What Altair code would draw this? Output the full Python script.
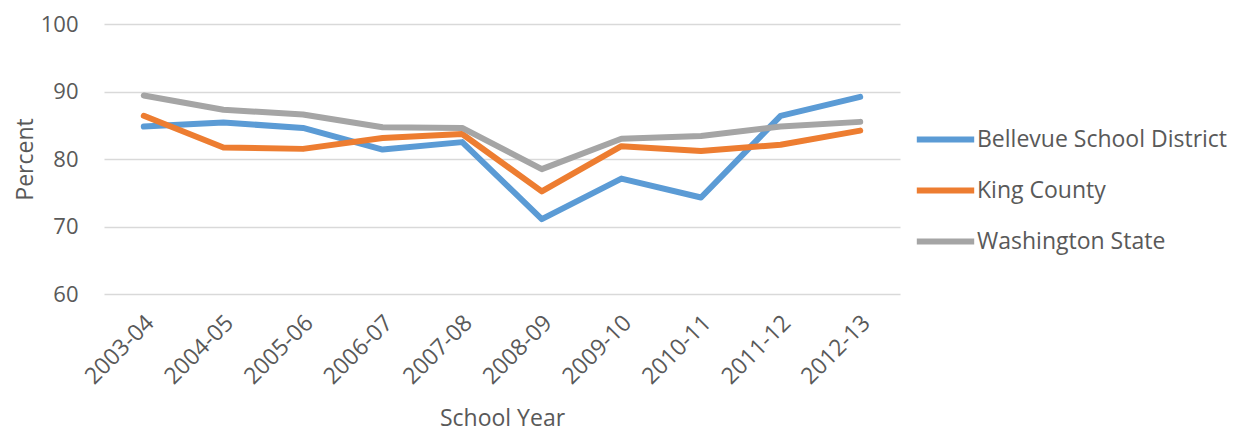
import altair as alt
import pandas as pd

years = ['2003-04', '2004-05', '2005-06', '2006-07', '2007-08',
         '2008-09', '2009-10', '2010-11', '2011-12', '2012-13']
bellevue = [84.8, 85.4, 84.6, 81.4, 82.5, 71.1, 77.1, 74.3, 86.4, 89.2]
king = [86.4, 81.7, 81.5, 83.1, 83.7, 75.2, 81.9, 81.2, 82.1, 84.2]
washington = [89.4, 87.3, 86.6, 84.7, 84.6, 78.5, 83.0, 83.4, 84.8, 85.5]

series = ['Bellevue School District', 'King County', 'Washington State']
colors = ['#5B9BD5', '#ED7D31', '#A5A5A5']

rows = []
for name, vals in zip(series, [bellevue, king, washington]):
    for yr, v in zip(years, vals):
        rows.append({'School Year': yr, 'Percent': v, 'Series': name})
df = pd.DataFrame(rows)

font = 'Open Sans'
grey = '#595959'
fs = 23

chart = alt.Chart(df).mark_line(
    strokeWidth=6, strokeCap='round', strokeJoin='round'
).encode(
    alt.X('School Year:N').sort(years).scale(type='point', padding=0.5).axis(
        title='School Year', labelAngle=-45, labelAlign='right',
        labelBaseline='middle', labelPadding=25, labelOffset=6,
        domain=False, ticks=False, grid=False, titlePadding=19
    ),
    alt.Y('Percent:Q').scale(domain=[60, 100]).axis(
        title='Percent', values=[60, 70, 80, 90, 100], domain=False,
        ticks=False, labelPadding=26, titlePadding=3, labelFontSize=22
    ),
    alt.Color('Series:N').scale(domain=series, range=colors).legend(
        title=None, orient='none', legendX=818, legendY=92,
        symbolType='M-1.4,0H1.4', symbolSize=1681, symbolStrokeWidth=6,
        labelOffset=8, rowPadding=15, labelFontSize=fs, labelFont=font,
        labelColor=grey, labelLimit=400
    ),
    order=alt.Order('Series:N')
).properties(
    width=796, height=270,
    padding={'left': 96, 'top': 16, 'right': 333, 'bottom': 141},
    autosize='none'
).configure_view(
    stroke=None
).configure_axis(
    labelFont=font, titleFont=font, labelFontSize=fs, titleFontSize=fs,
    labelColor=grey, titleColor=grey, titleFontWeight='normal',
    gridColor='#D9D9D9', gridWidth=1.5
)

chart.save('out.html', embed_options={'renderer': 'svg', 'actions': False})
